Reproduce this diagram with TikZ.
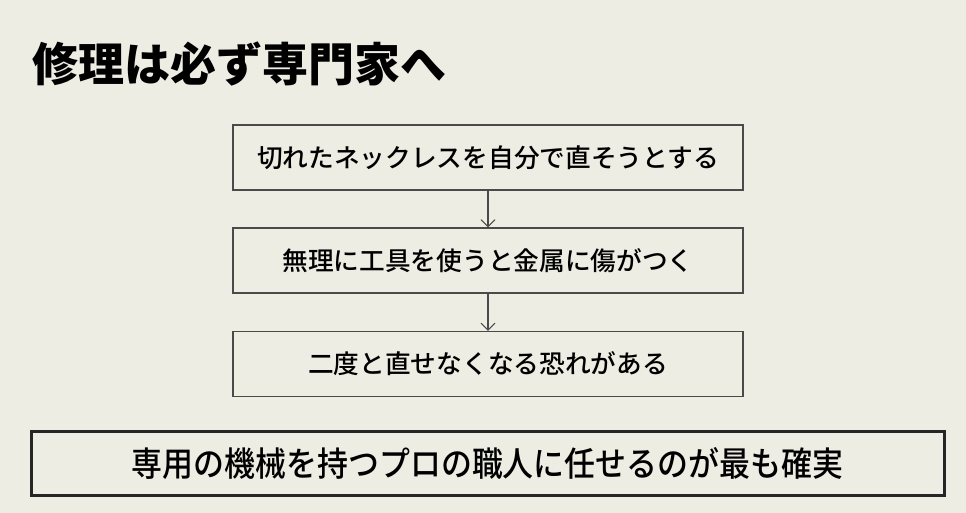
\documentclass[tikz,border=0pt]{standalone}
\usepackage{fontspec}
\setmainfont{Noto Sans CJK JP Medium}
\newfontfamily\jpbold{Noto Sans CJK JP Black}
\usetikzlibrary{arrows.meta}
\definecolor{bgc}{HTML}{EDEDE3}
\definecolor{boxline}{HTML}{4A4A4A}
\tikzset{
  stepbox/.style={draw=boxline, line width=1.3pt, fill=bgc, minimum width=510pt, minimum height=65pt, inner sep=0pt, font=\fontsize{25.7pt}{28pt}\selectfont, text=black},
  finalbox/.style={draw=black!85, line width=3pt, fill=bgc, minimum width=913pt, minimum height=64pt, inner sep=0pt, text=black},
  flow/.style={draw=boxline, line width=1.1pt, -{Straight Barb[length=7pt,width=14pt,line width=1pt]}},
}
\begin{document}
\begin{tikzpicture}[x=1pt,y=-1pt]
\fill[bgc] (0,0) rectangle (966,513);
\useasboundingbox (0,0) rectangle (966,513);
\node[anchor=base west, inner sep=0pt, font=\jpbold\fontsize{46pt}{50pt}\selectfont] (title) at (32,82) {修理は必ず専門家へ};
\node[stepbox] (s1) at (488,157.5) {切れたネックレスを自分で直そうとする};
\node[stepbox] (s2) at (488,260.5) {無理に工具を使うと金属に傷がつく};
\node[stepbox] (s3) at (488,364) {二度と直せなくなる恐れがある};
\node[finalbox] (f) at (487.5,463) {\fontsize{34pt}{37pt}\selectfont\scalebox{0.91}[1]{専用の機械を持つプロの職人に任せるのが最も確実}};
\draw[flow] (s1) -- (s2);
\draw[flow] (s2) -- (s3);
\end{tikzpicture}
\end{document}
